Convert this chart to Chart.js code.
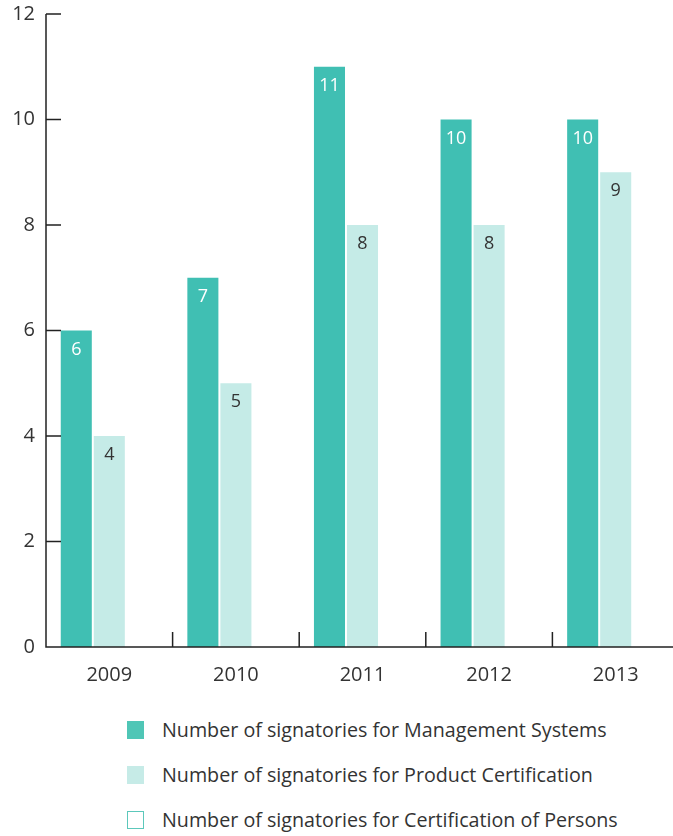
<!DOCTYPE html>
<html>
<head>
<meta charset="utf-8">
<script src="https://cdn.jsdelivr.net/npm/chart.js@4/dist/chart.umd.min.js"></script>
<style>
  html, body { margin: 0; padding: 0; background: #fff; overflow: hidden; }
  #wrap { position: relative; width: 679px; height: 702px; }
  #legend { position: absolute; left: 127px; top: 707px; font-family: "Open Sans", sans-serif; font-size: 19.7px; color: #333; }
  .row { display: flex; align-items: center; height: 45px; }
  .box { width: 17px; height: 18px; box-sizing: border-box; margin-right: 18px; }
</style>
</head>
<body>
<div id="wrap"><canvas id="chart"></canvas></div>
<div id="legend"></div>
<script>
// anos e séries
const anos = ['2009', '2010', '2011', '2012', '2013'];
const sistemasGestao = [6, 7, 11, 10, 10];
const certProduto = [4, 5, 8, 8, 9];
const certPessoas = [0, 0, 0, 0, 0];
const yTicks = [0, 2, 4, 6, 8, 10, 12];

const nomes = [
    'Number of signatories for Management Systems',
    'Number of signatories for Product Certification',
    'Number of signatories for Certification of Persons'
];

const fonte = '"Open Sans", sans-serif';
const corTexto = '#333';

// eixos com marcas para dentro
const eixos = {
    id: 'eixos',
    afterDraw(chart) {
        const { ctx, chartArea: a, scales: { x, y } } = chart;
        ctx.save();
        ctx.strokeStyle = '#222';
        ctx.lineWidth = 1.5;
        ctx.beginPath();
        ctx.moveTo(a.left, y.getPixelForValue(12));
        ctx.lineTo(a.left, a.bottom);
        ctx.lineTo(a.right, a.bottom);
        yTicks.forEach(v => {
            const py = y.getPixelForValue(v);
            ctx.moveTo(a.left, py);
            ctx.lineTo(a.left + 15, py);
        });
        const larg = x.width / anos.length;
        for (let i = 1; i < anos.length; i++) {
            const px = x.getPixelForValue(i) - larg / 2;
            ctx.moveTo(px, a.bottom);
            ctx.lineTo(px, a.bottom - 15);
        }
        ctx.stroke();
        ctx.restore();
    }
};

// valores dentro das barras
const rotulos = {
    id: 'rotulos',
    afterDatasetsDraw(chart) {
        const ctx = chart.ctx;
        ctx.save();
        ctx.font = '18px ' + fonte;
        ctx.textAlign = 'center';
        ctx.textBaseline = 'middle';
        chart.data.datasets.forEach((ds, i) => {
            if (!ds.corRotulo) return;
            chart.getDatasetMeta(i).data.forEach((bar, j) => {
                ctx.fillStyle = ds.corRotulo;
                ctx.fillText(String(ds.data[j]), bar.x, bar.y + 19);
            });
        });
        ctx.restore();
    }
};

const datasets = [
    { label: nomes[0], data: sistemasGestao, backgroundColor: '#40bfb3', corRotulo: '#fff', legenda: { fundo: '#4fc6b6', borda: '#4fc6b6' } },
    { label: nomes[1], data: certProduto, backgroundColor: '#c5ebe7', corRotulo: '#333', legenda: { fundo: '#c6ebe7', borda: '#c6ebe7' } },
    { label: nomes[2], data: certPessoas, backgroundColor: '#fff', borderWidth: 0, legenda: { fundo: '#fff', borda: '#5cc8bb' } }
];

const canvas = document.getElementById('chart');
canvas.width = 679;
canvas.height = 702;

new Chart(canvas, {
    type: 'bar',
    data: { labels: anos, datasets },
    options: {
        responsive: false,
        animation: false,
        categoryPercentage: 0.7826,
        barPercentage: 0.94,
        layout: { padding: { top: 14, right: 0, bottom: 0, left: 0 } },
        plugins: {
            legend: { display: false },
            tooltip: { enabled: false }
        },
        scales: {
            x: {
                offset: true,
                grid: { display: false, drawTicks: false },
                border: { display: false },
                ticks: { padding: 16, color: corTexto, font: { family: fonte, size: 20 } },
                afterFit(s) { s.height = 55; }
            },
            y: {
                min: 0,
                max: 12,
                afterBuildTicks(s) { s.ticks = yTicks.map(v => ({ value: v })); },
                grid: { display: false, drawTicks: false },
                border: { display: false },
                ticks: { padding: 11, color: corTexto, font: { family: fonte, size: 20 } },
                afterFit(s) {
                    s.width = 46;
                    s.paddingTop = 0;
                    s.paddingBottom = 0;
                }
            }
        }
    },
    plugins: [eixos, rotulos]
});

// legenda em HTML
const legenda = document.getElementById('legend');
datasets.forEach(ds => {
    const row = document.createElement('div');
    row.className = 'row';
    const box = document.createElement('span');
    box.className = 'box';
    box.style.background = ds.legenda.fundo;
    box.style.border = '1.5px solid ' + ds.legenda.borda;
    const txt = document.createElement('span');
    txt.textContent = ds.label;
    row.appendChild(box);
    row.appendChild(txt);
    legenda.appendChild(row);
});
</script>
</body>
</html>
